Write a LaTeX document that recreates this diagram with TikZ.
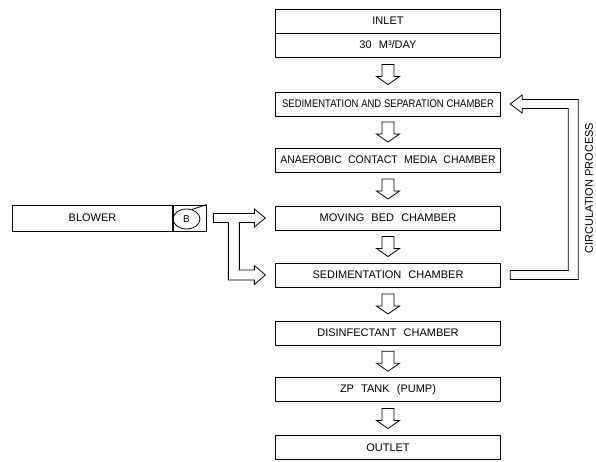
\documentclass[tikz,border=0pt]{standalone}
\usepackage{fontspec}
\usepackage{graphicx}
\setmainfont{Liberation Sans}
\usetikzlibrary{calc,shapes.geometric}
\newcommand{\widesp}{\spaceskip=0.65em\relax}
\newcommand{\normsp}{\spaceskip=0.3em\relax}
\newcommand{\midsp}{\spaceskip=0.6em\relax}
\begin{document}
\begin{tikzpicture}[x=1pt,y=-1pt,
  lbl/.style={font={\fontsize{11}{13}\selectfont\widesp}},
  box/.style={draw,line width=0.8pt,minimum width=225.5pt,minimum height=24pt,inner sep=0pt,lbl},
  hollow/.style={draw,line width=0.8pt,fill=white,line join=miter},
  downarrow/.pic={\draw[hollow] (-6,-10) -- (6,-10) -- (6,2) -- (11.5,2) -- (0,10) -- (-11.5,2) -- (-6,2) -- cycle;}
]
\useasboundingbox (0,0) rectangle (596,461);
% main column
\node[box] (inlet) at (388,21) {INLET};
\node[box] (flow) at (388,45) {30 M³/DAY};
\node[box] (sedsep) at (388,104) {\normsp\scalebox{0.86}[1]{SEDIMENTATION AND SEPARATION CHAMBER}};
\node[box] (anaer) at (388,160) {\midsp\scalebox{0.95}[1]{ANAEROBIC CONTACT MEDIA CHAMBER}};
\node[box] (moving) at (388,218) {MOVING BED CHAMBER};
\node[box] (sed) at (388,275) {SEDIMENTATION CHAMBER};
\node[box] (disinf) at (388,333) {DISINFECTANT CHAMBER};
\node[box] (zp) at (388,389.5) {ZP TANK (PUMP)};
\node[box] (outlet) at (388,447.5) {OUTLET};
% down arrows
\path ($(flow.south)!0.5!(sedsep.north)$) pic {downarrow};
\path ($(sedsep.south)!0.5!(anaer.north)$) pic {downarrow};
\path ($(anaer.south)!0.5!(moving.north)$) pic {downarrow};
\path ($(moving.south)!0.5!(sed.north)$) pic {downarrow};
\path ($(sed.south)!0.5!(disinf.north)$) pic {downarrow};
\path ($(disinf.south)!0.5!(zp.north)$) pic {downarrow};
\path ($(zp.south)!0.5!(outlet.north)$) pic {downarrow};
% blower
\node[draw,line width=0.8pt,minimum width=160pt,minimum height=26pt,inner sep=0pt,lbl] (blower) at (92.5,218) {BLOWER};
\node[draw,line width=0.8pt,minimum width=33pt,minimum height=26pt,inner sep=0pt,anchor=west] (bpart) at (blower.east) {};
\node[draw,ellipse,line width=0.8pt,minimum width=27pt,minimum height=20pt,inner sep=0pt,font=\fontsize{10}{11}\selectfont] (bell) at (186.5,219) {B};
\draw[line width=0.8pt] (bell.60) -- (bpart.north east);
% blower supply arrows
\draw[hollow]
  ($(moving.west)+(-61.5,-4.5)$) -- ($(moving.west)+(-20.5,-4.5)$) -- ($(moving.west)+(-20.5,-9)$)
  -- ($(moving.west)+(-9.5,0)$) -- ($(moving.west)+(-20.5,9)$) -- ($(moving.west)+(-20.5,4.5)$)
  -- ($(moving.west)+(-35.5,4.5)$) -- ($(sed.west)+(-35.5,-5)$) -- ($(sed.west)+(-20.5,-5)$)
  -- ($(sed.west)+(-20.5,-9.5)$) -- ($(sed.west)+(-9.5,0)$) -- ($(sed.west)+(-20.5,9.5)$)
  -- ($(sed.west)+(-20.5,5)$) -- ($(sed.west)+(-46.5,5)$) -- ($(moving.west)+(-46.5,4.5)$)
  -- ($(moving.west)+(-61.5,4.5)$) -- cycle;
% circulation arrow
\draw[hollow]
  ($(sed.east)+(9,-4.5)$) -- ($(sed.east)+(67,-4.5)$) -- ($(sedsep.east)+(67,4.5)$)
  -- ($(sedsep.east)+(21,4.5)$) -- ($(sedsep.east)+(21,9)$) -- ($(sedsep.east)+(9,0)$)
  -- ($(sedsep.east)+(21,-9)$) -- ($(sedsep.east)+(21,-4.5)$) -- ($(sedsep.east)+(77,-4.5)$)
  -- ($(sed.east)+(77,4.5)$) -- ($(sed.east)+(9,4.5)$) -- cycle;
\node[rotate=90,inner sep=0pt,font=\fontsize{11}{13}\selectfont] (circ) at (589,188) {CIRCULATION PROCESS};
\end{tikzpicture}
\end{document}
